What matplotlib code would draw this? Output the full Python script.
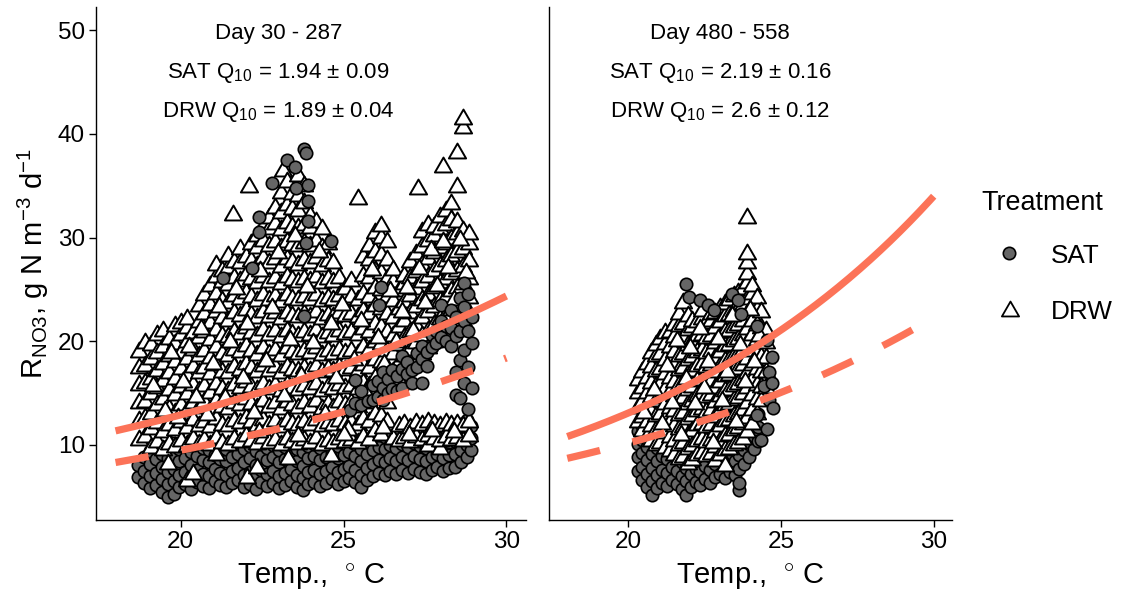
import numpy as np
import matplotlib.pyplot as plt
from matplotlib.lines import Line2D
from matplotlib.path import Path

plt.rcParams['font.family'] = ['Liberation Sans', 'DejaVu Sans']
plt.rcParams['mathtext.fontset'] = 'custom'
plt.rcParams['mathtext.rm'] = 'Liberation Sans'
plt.rcParams['mathtext.it'] = 'Liberation Sans:italic'
plt.rcParams['mathtext.bf'] = 'Liberation Sans:bold'

# ---- data: (temperature, [rates...]) columns ----

# Day 30 - 287, DRW (triangles)
drw_early = [
    (18.72, [10.5, 12.3, 14.0, 15.8, 17.4, 19.0]),
    (18.90, [10.8, 12.6, 14.1, 16.0, 17.6, 19.8]),
    (19.08, [9.7, 11.5, 13.0, 14.9, 16.4, 18.3, 19.6]),
    (19.27, [10.3, 12.1, 13.8, 15.5, 17.1, 18.9, 20.6]),
    (19.45, [9.5, 11.2, 12.9, 14.4, 16.2, 17.8, 19.4, 21.0]),
    (19.60, [8.2]),
    (19.63, [10.1, 11.9, 13.5, 15.3, 16.9, 18.6, 20.2]),
    (19.82, [9.8, 11.4, 13.1, 14.8, 16.4, 18.0, 19.7, 21.5]),
    (20.00, [10.4, 12.2, 13.8, 15.6, 17.3, 18.9, 20.6, 21.8]),
    (20.18, [6.5, 9.9, 11.6, 13.3, 14.9, 16.6, 18.3, 19.9, 21.3, 22.1]),
    (20.37, [7.2, 10.6, 12.4, 14.0, 15.8, 17.5, 19.2, 20.8]),
    (20.55, [10.1, 11.8, 13.6, 15.2, 16.9, 18.6, 20.3, 21.9, 23.4]),
    (20.73, [10.5, 12.2, 14.1, 15.7, 17.4, 19.1, 20.9, 22.6, 24.5]),
    (20.91, [10.0, 11.7, 13.4, 15.0, 16.8, 18.4, 20.1, 21.8, 23.5, 25.3]),
    (21.09, [9.0, 10.7, 12.5, 14.2, 15.9, 17.7, 19.4, 21.1, 22.8, 24.6, 26.2, 27.4]),
    (21.27, [10.2, 11.9, 13.7, 15.4, 17.0, 18.8, 20.5, 22.2, 23.9, 25.7, 26.8]),
    (21.45, [10.0, 11.8, 13.5, 15.2, 16.9, 18.6, 20.4, 22.0, 23.7, 25.4, 27.1, 28.2]),
    (21.60, [32.2]),
    (21.63, [10.6, 12.3, 14.0, 15.8, 17.5, 19.2, 20.9, 22.7, 24.4, 26.1, 27.6]),
    (21.81, [10.3, 12.1, 13.8, 15.5, 17.2, 19.0, 20.7, 22.4, 24.1, 25.8, 27.5, 28.9]),
    (21.99, [10.9, 12.6, 14.4, 16.1, 17.8, 19.5, 21.3, 23.0, 24.7, 26.4, 28.1]),
    (22.05, [6.8]),
    (22.10, [34.9]),
    (22.17, [10.4, 12.2, 13.9, 15.6, 17.4, 19.1, 20.8, 22.5, 24.3, 26.0, 27.7, 29.4]),
    (22.35, [7.8, 10.1, 11.8, 13.6, 15.3, 17.0, 18.7, 20.5, 22.2, 23.9, 25.6, 27.3, 29.0, 30.2]),
    (22.53, [10.7, 12.4, 14.2, 15.9, 17.6, 19.3, 21.1, 22.8, 24.5, 26.2, 28.0, 29.7, 31.0]),
    (22.71, [10.2, 11.9, 13.7, 15.4, 17.1, 18.8, 20.6, 22.3, 24.0, 25.7, 27.5, 29.2, 30.8, 31.9]),
    (22.89, [10.5, 12.3, 14.0, 15.8, 17.5, 19.2, 21.0, 22.7, 24.4, 26.1, 27.9, 29.6, 31.3, 32.9]),
    (23.07, [10.0, 11.7, 13.5, 15.2, 16.9, 18.6, 20.4, 22.1, 23.8, 25.5, 27.2, 29.0, 30.7, 32.4, 34.3]),
    (23.15, [36.4]),
    (23.25, [10.6, 12.3, 14.1, 15.8, 17.5, 19.3, 21.0, 22.7, 24.5, 26.2, 27.9, 29.6, 31.4, 33.1, 35.4]),
    (23.30, [8.6]),
    (23.43, [10.3, 12.0, 13.8, 15.5, 17.2, 19.0, 20.7, 22.4, 24.1, 25.9, 27.6, 29.3, 31.0, 32.8, 34.2]),
    (23.61, [10.1, 11.9, 13.6, 15.3, 17.1, 18.8, 20.5, 22.3, 24.0, 25.7, 27.4, 29.2, 30.9, 32.6, 34.0, 35.9]),
    (23.79, [10.5, 12.2, 14.0, 15.7, 17.4, 19.1, 20.9, 22.6, 24.3, 26.0, 27.8, 29.5, 31.2, 33.3, 35.0]),
    (23.97, [10.2, 11.9, 13.7, 15.4, 17.1, 18.9, 20.6, 22.3, 24.0, 25.8, 27.5, 29.2, 30.9, 32.1]),
    (24.15, [10.7, 12.4, 14.2, 15.9, 17.6, 19.3, 21.1, 22.8, 24.5, 26.2, 28.0, 29.7, 31.5]),
    (24.33, [10.0, 11.8, 13.5, 15.2, 17.0, 18.7, 20.4, 22.1, 23.9, 25.6, 27.3, 29.0, 30.8]),
    (24.51, [10.4, 12.1, 13.9, 15.6, 17.3, 19.1, 20.8, 22.5, 24.2, 26.0, 27.7, 29.4]),
    (24.60, [8.9]),
    (24.69, [10.2, 11.9, 13.6, 15.4, 17.1, 18.8, 20.5, 22.3, 24.0, 25.7, 27.5]),
    (24.87, [10.6, 12.3, 14.1, 15.8, 17.5, 19.2, 21.0, 22.7, 24.4, 26.1]),
    (25.05, [10.3, 12.0, 13.8, 15.5, 17.2, 18.9, 20.7, 22.4, 24.1, 25.0]),
    (25.23, [10.5, 12.2, 14.0, 15.7, 17.4, 19.1, 20.9, 22.6, 24.3, 25.8]),
    (25.43, [10.2, 11.9, 13.7, 15.4, 17.1, 18.8, 20.6, 22.3, 24.0, 33.7]),
    (25.61, [10.8, 12.5, 14.3, 16.0, 17.7, 19.4, 21.2, 22.9, 24.6, 26.3, 28.1]),
    (25.79, [10.5, 12.2, 14.0, 15.7, 17.4, 19.2, 20.9, 22.6, 24.3, 26.1, 27.8, 29.2]),
    (25.97, [11.3, 13.0, 14.8, 16.5, 18.2, 19.9, 21.7, 23.4, 25.1, 26.8, 28.6, 30.4]),
    (26.15, [11.0, 12.8, 14.5, 16.2, 18.0, 19.7, 21.4, 23.1, 24.9, 26.6, 28.3, 30.0, 31.1]),
    (26.33, [12.2, 14.0, 15.7, 17.4, 19.1, 20.9, 22.6, 24.3, 26.0, 27.8, 29.6]),
    (26.51, [10.6, 15.3, 17.0, 18.8, 20.5, 22.2, 23.9, 25.7, 26.9]),
    (26.69, [10.4, 11.8, 16.2, 17.9, 19.6, 21.4, 23.1, 24.8]),
    (26.87, [10.7, 12.0, 16.9, 18.6, 20.3, 22.0, 23.8, 25.5, 26.3]),
    (27.05, [10.3, 11.6, 17.5, 19.2, 20.9, 22.7, 24.4, 26.1, 27.6]),
    (27.23, [10.8, 12.1, 18.1, 19.8, 21.5, 23.3, 25.0, 26.7, 28.4]),
    (27.28, [34.7]),
    (27.41, [10.5, 11.9, 18.8, 20.5, 22.2, 24.0, 25.7, 27.4, 29.1, 30.5]),
    (27.59, [9.9, 10.9, 12.2, 19.3, 21.0, 22.8, 24.5, 26.2, 27.9, 29.7, 31.2]),
    (27.77, [10.6, 12.0, 19.9, 21.6, 23.3, 25.1, 26.8, 28.5, 30.2, 31.0]),
    (27.95, [9.6, 10.4, 11.8, 20.4, 22.1, 23.9, 25.6, 27.3, 29.0, 30.8, 32.0]),
    (28.05, [36.8]),
    (28.13, [10.8, 12.1, 20.8, 22.5, 24.3, 26.0, 27.7, 29.4, 31.2, 32.6]),
    (28.31, [10.5, 11.9, 21.3, 23.0, 24.8, 26.5, 28.2, 29.9, 31.7, 33.2]),
    (28.49, [10.7, 12.0, 21.6, 23.4, 25.1, 26.8, 28.6, 30.3, 31.5, 34.9, 38.2]),
    (28.67, [10.4, 11.8, 22.0, 23.7, 25.5, 27.2, 28.9, 30.6, 40.6, 41.4]),
    (28.85, [10.9, 12.2, 22.5, 24.2, 26.0, 27.7, 29.4, 30.3]),
]
# scattered DRW points in between the stacks
drw_early_t = [19.15, 19.52, 19.71, 19.93, 20.08, 20.27, 20.46, 20.62, 20.81, 20.98,
               21.18, 21.36, 21.52, 21.71, 21.90, 22.05, 22.26, 22.44, 22.62, 22.80,
               22.98, 23.16, 23.34, 23.52, 23.70, 23.88, 24.06, 24.24, 24.42, 24.60,
               24.78, 24.96, 25.14, 25.32, 25.52, 25.70, 25.88, 26.06, 26.24, 26.42,
               26.60, 26.78, 26.96, 27.14, 27.32, 27.50, 27.68, 27.86, 28.04, 28.22,
               28.40, 28.58, 28.76, 27.00, 27.70, 28.40, 26.20, 25.00, 23.60, 22.40]
drw_early_r = [15.7, 13.3, 18.9, 12.6, 16.1, 19.4, 14.6, 21.2, 12.9, 17.8,
               23.3, 14.5, 19.9, 25.0, 16.5, 21.7, 13.1, 26.8, 18.1, 23.2,
               28.5, 14.7, 20.1, 30.2, 16.6, 25.2, 19.8, 28.6, 13.0, 21.7,
               16.5, 23.5, 11.4, 18.2, 22.0, 14.9, 26.9, 20.3, 17.8, 24.8,
               19.9, 22.8, 25.1, 21.0, 27.0, 23.7, 28.8, 25.3, 29.6, 27.1,
               24.0, 29.8, 26.6, 11.0, 11.3, 11.2, 11.6, 11.0, 10.9, 11.2]

# Day 30 - 287, SAT (circles): low band, then the points that rise above it
sat_early_band = [
    (18.70, [6.9, 8.1]), (18.88, [6.3, 7.5, 8.8]), (19.06, [5.8, 7.0, 8.2, 9.4]),
    (19.24, [6.1, 7.3, 8.6, 9.8]), (19.42, [5.5, 6.7, 7.9, 9.1]),
    (19.60, [5.0, 6.2, 7.4, 8.7, 9.9]), (19.78, [5.3, 6.5, 7.7, 9.0, 10.2]),
    (19.96, [5.9, 7.1, 8.4, 9.6]), (20.14, [6.2, 7.4, 8.7, 9.9]),
    (20.32, [5.7, 6.9, 8.1, 9.3, 10.5]), (20.50, [6.4, 7.6, 8.9, 10.1]),
    (20.68, [6.0, 7.2, 8.5, 9.7]), (20.86, [5.8, 7.0, 8.3, 9.5]),
    (21.04, [6.5, 7.7, 9.0, 10.2]), (21.22, [6.1, 7.3, 8.6, 9.8]),
    (21.40, [5.9, 7.1, 8.4, 9.6]), (21.58, [6.3, 7.5, 8.8, 10.0]),
    (21.76, [6.6, 7.8, 9.1]), (21.94, [5.9, 7.1, 8.3, 9.6]),
    (22.12, [6.2, 7.4, 8.7, 9.9]), (22.30, [5.7, 6.9, 8.1, 9.4]),
    (22.48, [6.4, 7.6, 8.9, 10.1]), (22.66, [6.0, 7.2, 8.5, 9.7]),
    (22.84, [6.3, 7.5, 8.8, 10.0]), (23.02, [5.8, 7.0, 8.3, 9.5]),
    (23.20, [6.1, 7.3, 8.6, 9.8]), (23.38, [6.5, 7.7, 9.0]),
    (23.56, [5.9, 7.1, 8.4, 9.6]), (23.74, [5.6, 6.8, 8.0, 9.3]),
    (23.92, [6.2, 7.4, 8.7, 9.9]), (24.10, [6.4, 7.6, 8.9, 10.1]),
    (24.28, [6.0, 7.2, 8.5, 9.7]), (24.46, [6.3, 7.5, 8.8]),
    (24.64, [6.7, 7.9, 9.2, 10.4]), (24.82, [6.2, 7.4, 8.7, 9.9]),
    (25.00, [6.5, 7.7, 9.0, 10.2]), (25.18, [6.8, 8.0, 9.3]),
    (25.36, [6.4, 7.6, 8.9, 10.1]), (25.54, [5.9, 7.1, 8.4, 9.6]),
    (25.72, [6.6, 7.8, 9.1, 10.3]), (25.90, [7.0, 8.2, 9.5]),
    (26.08, [7.3, 8.5, 9.8, 11.0]), (26.26, [7.1, 8.3, 9.6, 10.8]),
    (26.44, [7.5, 8.7, 10.0]), (26.62, [7.2, 8.4, 9.7, 10.9]),
    (26.80, [7.6, 8.8, 10.1]), (26.98, [7.3, 8.5, 9.8, 11.0]),
    (27.16, [7.7, 8.9, 10.2]), (27.34, [7.4, 8.6, 9.9, 11.1]),
    (27.52, [7.2, 8.4, 9.7, 10.9]), (27.70, [7.6, 8.8, 10.1]),
    (27.88, [7.9, 9.1, 10.4, 11.6]), (28.06, [7.5, 8.7, 10.0, 11.2]),
    (28.24, [7.8, 9.0, 10.3, 11.5]), (28.42, [7.9, 9.1, 10.4, 11.7]),
    (28.60, [8.3, 9.5, 10.8, 12.0]), (28.78, [8.8, 10.0, 11.3, 12.4]),
    (28.92, [9.5, 10.7, 11.8]),
]
sat_early_top = [
    (21.30, [26.1]), (22.20, [27.1]), (22.40, [30.5, 32.0]), (22.80, [35.3]),
    (23.25, [37.5]), (23.50, [36.8]), (23.55, [34.8]),
    (23.80, [22.4, 38.5]), (23.85, [29.5, 38.2]), (23.90, [31.6, 33.5, 35.1]),
    (24.60, [29.7]), (26.10, [23.5]), (26.15, [25.2]),
    (25.20, [13.4]), (25.35, [14.0, 16.3]), (25.55, [13.8, 15.2]), (25.75, [14.2]),
    (25.90, [14.3, 15.8]), (26.05, [14.6, 16.2]), (26.20, [14.3, 15.5, 17.0]),
    (26.35, [15.0, 16.4]), (26.50, [15.4, 17.2]), (26.65, [16.6, 15.2]),
    (26.80, [15.5, 17.3, 18.6]), (26.95, [16.8, 18.0]), (27.10, [17.2, 16.0]),
    (27.25, [17.5, 18.9]), (27.40, [16.0, 18.3, 19.5]), (27.55, [19.0, 17.6]),
    (27.70, [19.4, 20.6]), (27.85, [19.8, 21.0]), (28.00, [20.4, 22.0, 23.5]),
    (28.15, [21.5, 20.0]), (28.30, [23.0, 21.3, 19.5]),
    (28.45, [20.5, 22.3, 14.8, 17.0]), (28.58, [24.2, 18.2, 14.5, 21.0]),
    (28.70, [25.6, 23.3, 16.0, 19.2, 22.0]), (28.82, [21.0, 13.5, 17.5, 24.6]),
    (28.95, [22.3, 19.8, 15.5]),
]

# Day 480 - 558, DRW (triangles)
drw_late = [
    (20.30, [12.2, 13.6, 15.0, 16.3]),
    (20.45, [11.3, 12.7, 14.1, 15.5, 17.0]),
    (20.60, [10.8, 12.2, 13.6, 15.0, 16.5, 17.8]),
    (20.75, [10.4, 11.8, 13.2, 14.6, 16.0, 17.5, 18.9]),
    (20.90, [10.0, 11.4, 12.8, 14.2, 15.7, 17.1, 18.6, 19.6]),
    (21.05, [10.2, 11.6, 13.0, 14.5, 15.9, 17.3, 18.8, 20.2]),
    (21.20, [9.7, 11.1, 12.5, 13.9, 15.4, 16.8, 18.2, 19.7, 20.8]),
    (21.35, [9.4, 10.8, 12.2, 13.6, 15.1, 16.5, 17.9, 19.4, 20.9]),
    (21.50, [9.0, 10.4, 11.8, 13.3, 14.7, 16.1, 17.6, 19.0, 20.4, 21.6]),
    (21.65, [8.6, 10.0, 11.5, 12.9, 14.3, 15.8, 17.2, 18.6, 20.1, 21.5, 22.6]),
    (21.80, [8.8, 10.2, 11.7, 13.1, 14.5, 16.0, 17.4, 18.8, 20.3, 21.7, 23.7]),
    (21.95, [8.2, 9.6, 11.0, 12.5, 13.9, 15.3, 16.8, 18.2, 19.6, 21.1, 22.4]),
    (22.10, [8.5, 9.9, 11.3, 12.8, 14.2, 15.6, 17.1, 18.5, 19.9, 21.4, 22.0]),
    (22.25, [9.0, 10.4, 11.9, 13.3, 14.7, 16.2, 17.6, 19.0, 20.5, 21.9]),
    (22.40, [9.2, 10.6, 12.0, 13.5, 14.9, 16.3, 17.8, 19.2, 20.6, 22.1, 22.9]),
    (22.55, [8.9, 10.3, 11.7, 13.2, 14.6, 16.0, 17.5, 18.9, 20.3, 21.8]),
    (22.70, [9.1, 10.5, 11.9, 13.4, 14.8, 16.2, 17.7, 19.1, 20.5, 22.0, 22.6]),
    (22.85, [8.4, 9.8, 11.2, 12.7, 14.1, 15.5, 17.0, 18.4, 19.8, 21.3, 22.7]),
    (23.00, [9.0, 10.4, 11.8, 13.3, 14.7, 16.1, 17.6, 19.0, 20.4, 21.9, 23.2]),
    (23.15, [8.0, 9.5, 10.9, 12.3, 13.8, 15.2, 16.6, 18.1, 19.5, 20.9, 22.4, 23.6]),
    (23.30, [9.6, 11.0, 12.4, 13.9, 15.3, 16.7, 18.2, 19.6, 21.0, 22.5, 24.0]),
    (23.45, [10.0, 11.4, 12.8, 14.3, 15.7, 17.1, 18.6, 20.0, 21.4, 22.9, 24.4]),
    (23.60, [10.2, 11.6, 13.0, 14.5, 15.9, 17.3, 18.8, 20.2, 21.6, 23.1, 24.7]),
    (23.75, [10.6, 12.0, 13.4, 14.9, 16.3, 17.7, 19.2, 20.6, 22.0, 23.5, 25.0]),
    (23.88, [11.2, 12.6, 14.0, 15.5, 16.9, 18.3, 19.8, 21.2, 22.6, 24.1, 25.6, 26.5, 27.5, 28.4, 31.9]),
    (24.05, [12.0, 13.4, 14.8, 16.3, 17.7, 19.1, 20.6, 22.0, 23.4, 24.6, 25.3]),
    (24.20, [13.0, 14.4, 15.8, 17.3, 18.7, 20.1, 21.6, 23.0, 24.2]),
    (24.35, [14.2, 15.6, 17.0, 18.5, 19.9, 21.3, 22.8]),
    (24.50, [15.5, 17.0, 18.4, 19.8, 21.0]),
]
drw_late_t = [20.52, 20.83, 21.10, 21.28, 21.44, 21.58, 21.72, 21.88, 22.03, 22.18,
              22.33, 22.48, 22.62, 22.78, 22.93, 23.08, 23.22, 23.38, 23.52, 23.67,
              23.82, 23.97, 24.12, 24.28]
drw_late_r = [13.1, 15.3, 12.0, 17.6, 14.0, 20.0, 11.0, 16.4, 19.3, 13.9,
              21.2, 15.5, 18.0, 10.2, 20.2, 14.2, 17.0, 22.4, 12.2, 19.6,
              16.1, 23.0, 18.0, 20.5]

# Day 480 - 558, SAT (circles)
sat_late_band = [
    (20.30, [7.5, 8.8, 10.1, 11.3]), (20.45, [6.6, 7.9, 9.2, 10.5, 11.8]),
    (20.60, [5.9, 7.2, 8.5, 9.8, 11.0]), (20.77, [5.2, 6.5, 7.8, 9.1, 10.4]),
    (20.93, [5.8, 7.1, 8.4, 9.7, 10.9]), (21.10, [6.3, 7.6, 8.9, 10.2]),
    (21.26, [6.0, 7.3, 8.6, 9.9, 11.2]), (21.42, [6.6, 7.9, 9.2, 10.5]),
    (21.58, [6.2, 7.5, 8.8, 10.1]), (21.74, [5.7, 7.0, 8.3, 9.6]),
    (21.88, [5.2, 6.5, 7.8, 9.1, 10.4]), (22.04, [5.9, 7.2, 8.5, 9.8]),
    (22.20, [6.4, 7.7, 9.0, 10.3]), (22.36, [6.1, 7.4, 8.7, 10.0]),
    (22.52, [6.7, 8.0, 9.3, 10.6]), (22.68, [6.3, 7.6, 8.9, 10.2]),
    (22.84, [6.9, 8.2, 9.5]), (23.00, [7.2, 8.5, 9.8, 11.1]),
    (23.16, [6.8, 8.1, 9.4]), (23.32, [7.4, 8.7, 10.0]),
    (23.48, [7.1, 8.4, 9.7, 11.0]), (23.62, [5.6, 6.3, 7.7, 9.0]),
    (23.78, [8.2, 9.5, 10.8, 12.1]), (23.94, [8.8, 10.1, 11.4]),
    (24.10, [9.6, 10.9, 12.2]), (24.26, [10.4, 11.7, 13.0]),
]
sat_late_top = [
    (21.90, [25.5]), (22.00, [24.3]), (22.35, [24.0]), (22.60, [23.5]),
    (22.80, [23.0]), (23.40, [24.6]), (23.60, [24.0]), (23.70, [22.6]),
    (24.20, [21.5, 12.9]), (24.35, [10.5]), (24.45, [15.7]), (24.55, [20.1, 11.5]),
    (24.60, [14.3, 17.0]), (24.70, [18.5, 16.0]), (24.75, [13.6]),
]

# exponential Q10 fits: rate at 18 degC and Q10
fit_early = {'SAT': (8.3, 1.94), 'DRW': (11.35, 1.89)}
fit_late = {'SAT': (8.7, 2.19), 'DRW': (10.8, 2.60)}

labels_early = ['Day 30 - 287', 'SAT Q$_{10}$ = 1.94 ± 0.09', 'DRW Q$_{10}$ = 1.89 ± 0.04']
labels_late = ['Day 480 - 558', 'SAT Q$_{10}$ = 2.19 ± 0.16', 'DRW Q$_{10}$ = 2.6 ± 0.12']

SALMON = '#FC7358'
TRI = Path([(-0.5, -0.2887), (0.5, -0.2887), (0.0, 0.5774), (-0.5, -0.2887)], closed=True)
TRI_S = 205


def flat(cols):
    t = [x for x, ys in cols for _ in ys]
    r = [y for _, ys in cols for y in ys]
    return t, r


def circles(ax, cols):
    t, r = flat(cols)
    ax.scatter(t, r, s=80, marker='o', facecolor='#666666', edgecolor='black',
               linewidth=1.2, zorder=2)


def triangles(ax, t, r):
    ax.scatter(t, r, s=TRI_S, marker=TRI, facecolor='white', edgecolor='black',
               linewidth=1.4, zorder=2)


def fits(ax, fit):
    T = np.linspace(18, 30, 300)
    r0, q = fit['DRW']
    ax.plot(T, r0 * q ** ((T - 18) / 10), color=SALMON, lw=5.2,
            solid_capstyle='butt', zorder=4)
    r0, q = fit['SAT']
    ax.plot(T, r0 * q ** ((T - 18) / 10), color=SALMON, lw=5.2,
            ls=(0, (4.65, 4.65)), dash_capstyle='butt', zorder=4)


def style(ax):
    ax.set_xlim(17.4, 30.6)
    ax.set_ylim(2.75, 52.25)
    ax.set_xticks([20, 25, 30])
    for s in ['top', 'right']:
        ax.spines[s].set_visible(False)
    for s in ['left', 'bottom']:
        ax.spines[s].set_linewidth(1.0)
    ax.tick_params(length=5, width=1.0, labelsize=17.5, pad=3, colors='black')
    ax.set_xlabel('Temp.,  $^{\\circ}$ C', fontsize=21, va='baseline')
    ax.xaxis.set_label_coords(0.5, -64 / 513)


fig = plt.figure(figsize=(11.21, 5.94), dpi=100)
ax1 = fig.add_axes([96 / 1121, 74 / 594, 430 / 1121, 513 / 594])
ax2 = fig.add_axes([549 / 1121, 74 / 594, 403 / 1121, 513 / 594])

circles(ax1, sat_early_band)
triangles(ax1, *flat(drw_early))
triangles(ax1, drw_early_t, drw_early_r)
circles(ax1, sat_early_top)
fits(ax1, fit_early)

circles(ax2, sat_late_band)
triangles(ax2, *flat(drw_late))
triangles(ax2, drw_late_t, drw_late_r)
circles(ax2, sat_late_top)
fits(ax2, fit_late)

for ax, labels in [(ax1, labels_early), (ax2, labels_late)]:
    style(ax)
    for lab, yb in zip(labels, [49.2, 45.4, 41.6]):
        ax.text(23, yb, lab, ha='center', va='baseline', fontsize=16)

ax1.set_yticks([10, 20, 30, 40, 50])
ax1.set_ylabel('R$_{\\mathrm{NO3}}$, g N m$^{-3}$ d$^{-1}$', fontsize=21, va='baseline')
ax1.yaxis.set_label_coords(-53 / 430, 0.5)
ax2.set_yticks([])

# legend
fig.text(981 / 1121, 1 - 210 / 594, 'Treatment', fontsize=19.4, va='baseline')
fig.add_artist(Line2D([1009 / 1121], [1 - 253 / 594], transform=fig.transFigure,
                      marker='o', ms=8.9, mfc='#666666', mec='black', mew=1.2, ls=''))
fig.add_artist(Line2D([1010 / 1121], [1 - 311 / 594], transform=fig.transFigure,
                      marker=TRI, ms=TRI_S ** 0.5, mfc='white', mec='black', mew=1.3, ls=''))
fig.text(1051 / 1121, 1 - 263 / 594, 'SAT', fontsize=18.8, va='baseline')
fig.text(1051 / 1121, 1 - 319 / 594, 'DRW', fontsize=18.8, va='baseline')

fig.savefig('out.png', dpi=100)
